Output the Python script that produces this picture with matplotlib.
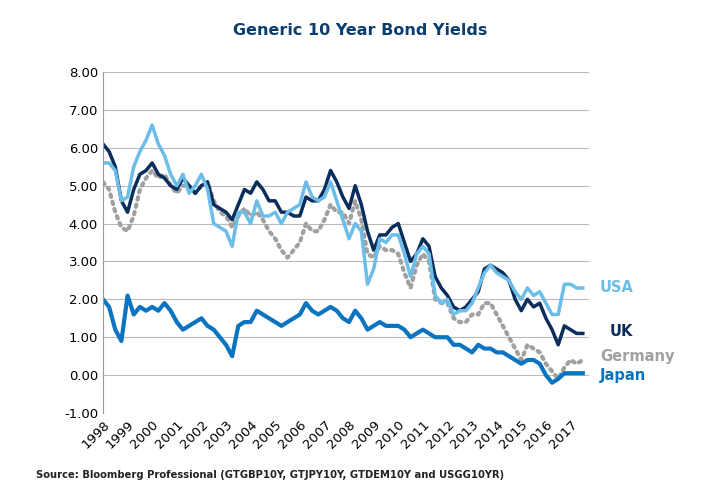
import matplotlib
matplotlib.use("Agg")
import matplotlib.pyplot as plt
import numpy as np

years = list(range(1998, 2018))
usa = [5.6,5.6,5.4,4.6, 4.7,5.5,5.9,6.2, 6.6,6.1,5.8,5.3, 5.0,5.3,4.8,5.0, 5.3,4.9,4.0,3.9,
       3.8,3.4,4.3,4.3, 4.0,4.6,4.2,4.2, 4.3,4.0,4.3,4.4, 4.5,5.1,4.7,4.6, 4.7,5.1,4.6,4.1,
       3.6,4.0,3.8,2.4, 2.8,3.6,3.5,3.7, 3.7,3.2,2.6,3.2, 3.4,3.2,2.1,1.9, 2.0,1.6,1.7,1.7,
       1.9,2.3,2.7,2.9, 2.7,2.6,2.5,2.2, 2.0,2.3,2.1,2.2, 1.9,1.6,1.6,2.4, 2.4,2.3,2.3]
uk = [6.1,5.9,5.5,4.6, 4.3,4.9,5.3,5.4, 5.6,5.3,5.2,5.0, 4.9,5.2,5.0,4.8, 5.0,5.1,4.5,4.4,
      4.3,4.1,4.5,4.9, 4.8,5.1,4.9,4.6, 4.6,4.3,4.3,4.2, 4.2,4.7,4.6,4.6, 4.9,5.4,5.1,4.7,
      4.4,5.0,4.5,3.8, 3.3,3.7,3.7,3.9, 4.0,3.5,3.0,3.2, 3.6,3.4,2.6,2.3, 2.1,1.8,1.7,1.8,
      2.0,2.2,2.8,2.9, 2.8,2.7,2.5,2.0, 1.7,2.0,1.8,1.9, 1.5,1.2,0.8,1.3, 1.2,1.1,1.1]
germany = [5.1,4.9,4.3,3.9, 3.8,4.2,4.9,5.2, 5.4,5.2,5.3,5.0, 4.8,5.0,5.0,4.8, 5.0,5.1,4.6,4.3,
           4.2,3.9,4.2,4.4, 4.2,4.3,4.1,3.8, 3.6,3.3,3.1,3.3, 3.5,4.0,3.8,3.8, 4.1,4.5,4.3,4.3,
           4.0,4.6,4.1,3.2, 3.1,3.4,3.3,3.3, 3.2,2.7,2.3,2.9, 3.2,3.0,2.0,1.9, 1.9,1.5,1.4,1.4,
           1.6,1.6,1.9,1.9, 1.6,1.3,1.0,0.7, 0.4,0.8,0.7,0.6, 0.3,0.1,-0.1,0.2, 0.4,0.3,0.4]
japan = [2.0,1.8,1.2,0.9, 2.1,1.6,1.8,1.7, 1.8,1.7,1.9,1.7, 1.4,1.2,1.3,1.4, 1.5,1.3,1.2,1.0,
         0.8,0.5,1.3,1.4, 1.4,1.7,1.6,1.5, 1.4,1.3,1.4,1.5, 1.6,1.9,1.7,1.6, 1.7,1.8,1.7,1.5,
         1.4,1.7,1.5,1.2, 1.3,1.4,1.3,1.3, 1.3,1.2,1.0,1.1, 1.2,1.1,1.0,1.0, 1.0,0.8,0.8,0.7,
         0.6,0.8,0.7,0.7, 0.6,0.6,0.5,0.4, 0.3,0.4,0.4,0.3, 0.0,-0.2,-0.1,0.05, 0.05,0.05,0.05]

t = 1998 + np.arange(len(usa)) * 0.25

fig = plt.figure(figsize=(7.2, 5.0), dpi=100)
ax = fig.add_axes([0.143, 0.174, 0.675, 0.682])
ax.plot(t, germany, color="#a0a0a0", lw=3, linestyle=(0, (0.6, 1.2)), dash_capstyle="round")
ax.plot(t, uk, color="#0b2d5b", lw=2.5)
ax.plot(t, usa, color="#6cbde8", lw=2.5)
ax.plot(t, japan, color="#0a74c0", lw=3)

ax.set_xlim(1998, 2017.75)
ax.set_ylim(-1, 8)
ax.set_yticks(np.arange(-1, 9, 1))
ax.set_yticklabels([f"{v:.2f}" for v in np.arange(-1, 9, 1)], fontsize=9.5)
ax.set_xticks(years)
ax.set_xticklabels([str(y) for y in years], rotation=45, ha="right", rotation_mode="anchor", fontsize=9.5)
ax.grid(axis="y", color="#bbbbbb", lw=0.8)
ax.set_axisbelow(True)
for s in ["top", "right", "bottom"]:
    ax.spines[s].set_visible(False)
ax.spines["left"].set_color("#999999")
ax.tick_params(length=0)

ax.text(2018.2, 2.3, "USA", color="#6cbde8", fontsize=10.5, fontweight="bold", va="center")
ax.text(2018.6, 1.15, "UK", color="#0b2d5b", fontsize=10.5, fontweight="bold", va="center")
ax.text(2018.2, 0.5, "Germany", color="#a0a0a0", fontsize=10.5, fontweight="bold", va="center")
ax.text(2018.2, 0.0, "Japan", color="#0a74c0", fontsize=10.5, fontweight="bold", va="center")

fig.text(0.50, 0.93, "Generic 10 Year Bond Yields", ha="center", fontsize=11.5, fontweight="bold", color="#0b3d6e")
fig.text(0.05, 0.045, "Source: Bloomberg Professional (GTGBP10Y, GTJPY10Y, GTDEM10Y and USGG10YR)", fontsize=7.2, fontweight="bold", color="#222222")

fig.savefig("out.png", dpi=100)
